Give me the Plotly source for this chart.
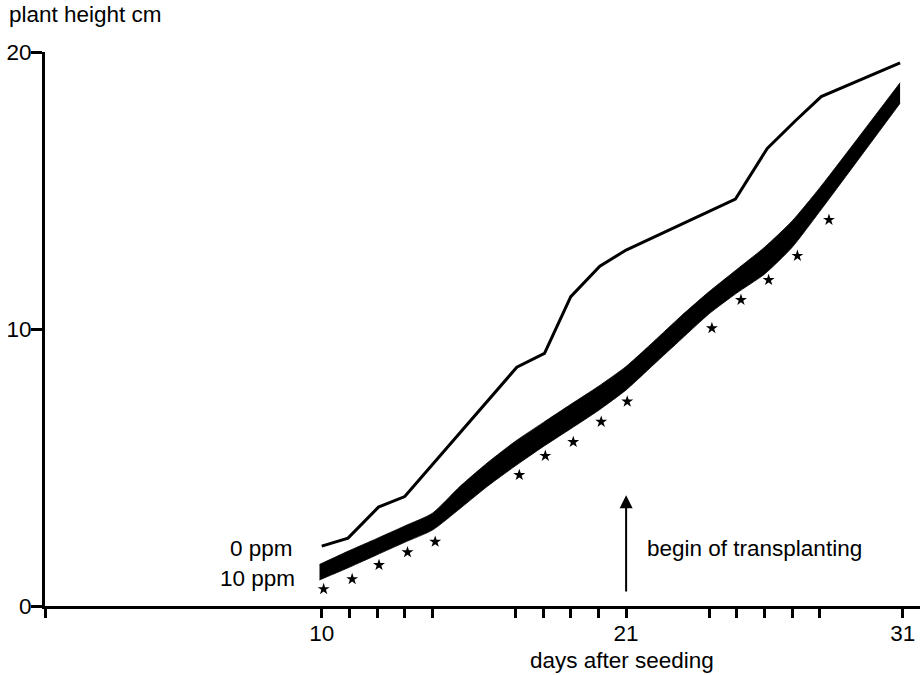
import plotly.graph_objects as go

# ---- data ----
ppm0_days = [10.0, 10.95, 12.05, 13.0, 17.05, 18.05, 19.0, 20.05, 21.0, 24.95, 26.1, 27.1, 28.05, 30.9]
ppm0_height = [2.16, 2.45, 3.57, 3.95, 8.62, 9.12, 11.17, 12.27, 12.85, 14.69, 16.52, 17.5, 18.39, 19.61]

band_days = [9.92, 11, 12, 13, 14, 15, 16, 17, 18, 19, 20, 21, 22, 23, 24, 25, 26, 27, 28, 30.9]
band_upper = [1.50, 2.00, 2.44, 2.89, 3.35, 4.32, 5.18, 5.95, 6.62, 7.28, 7.93, 8.65, 9.55, 10.48,
              11.35, 12.15, 12.95, 13.90, 15.10, 18.89]
band_lower = [0.94, 1.40, 1.85, 2.30, 2.74, 3.52, 4.33, 5.06, 5.75, 6.40, 7.06, 7.80, 8.72, 9.64,
              10.55, 11.30, 11.98, 12.95, 14.25, 18.15]

star_days = [10.07, 11.1, 12.07, 13.1, 14.1, 17.14, 18.08, 19.09, 20.1, 21.04, 24.1, 25.15, 26.15, 27.19, 28.33]
star_height = [0.61, 0.97, 1.48, 1.94, 2.32, 4.73, 5.42, 5.92, 6.65, 7.38, 10.03, 11.05, 11.77, 12.64, 13.94]

x_tickvals = [0, 10, 11, 12, 13, 14, 17, 18, 19, 20, 21, 24, 25, 26, 27, 28, 31]
x_ticklabels = {10: "10", 21: "21", 31: "31"}
y_tickvals = [0, 10, 20]

transplant_day = 21

FONT = "Liberation Sans, Arial, Helvetica, sans-serif"
FS = 22.5

fig = go.Figure()

fig.add_trace(go.Scatter(x=band_days, y=band_lower, mode="lines",
                         line=dict(color="black", width=0.8, shape="spline", smoothing=0.6),
                         hoverinfo="skip"))
fig.add_trace(go.Scatter(x=band_days, y=band_upper, mode="lines", fill="tonexty",
                         fillcolor="black",
                         line=dict(color="black", width=0.8, shape="spline", smoothing=0.6),
                         hoverinfo="skip"))
fig.add_trace(go.Scatter(x=ppm0_days, y=ppm0_height, mode="lines",
                         line=dict(color="black", width=3)))
fig.add_trace(go.Scatter(x=star_days, y=star_height, mode="markers",
                         marker=dict(symbol="star", size=9, color="black")))

fig.update_layout(
    width=924, height=675,
    margin=dict(l=45, r=4, t=52, b=69),
    plot_bgcolor="white", paper_bgcolor="white",
    showlegend=False,
    font=dict(family=FONT, size=FS, color="black"),
    xaxis=dict(range=[0, 31.62], showline=True, linewidth=3, linecolor="black",
               ticks="outside", ticklen=9, tickwidth=2.5, tickcolor="black",
               tickvals=x_tickvals,
               ticktext=[x_ticklabels.get(v, "") for v in x_tickvals],
               ticklabelstandoff=-4,
               showgrid=False, zeroline=False, tickfont=dict(size=FS)),
    yaxis=dict(range=[0, 20], showline=True, linewidth=3, linecolor="black",
               ticks="outside", ticklen=11, tickwidth=2.5, tickcolor="black",
               tickvals=y_tickvals, ticktext=[str(v) for v in y_tickvals],
               ticklabelstandoff=-5,
               showgrid=False, zeroline=False, tickfont=dict(size=FS)),
)

annotations = [
    dict(text="plant height cm", xref="paper", yref="paper", x=-0.0434, y=1.067,
         xanchor="left", yanchor="middle", showarrow=False),
    dict(text="days after seeding", xref="paper", yref="paper", x=0.659, y=-0.0975,
         xanchor="center", yanchor="middle", showarrow=False),
    dict(text="0 ppm", xref="x", yref="y", x=9.03, y=2.06,
         xanchor="right", yanchor="middle", showarrow=False),
    dict(text="10 ppm", xref="x", yref="y", x=9.1, y=1.01,
         xanchor="right", yanchor="middle", showarrow=False),
    dict(text="begin of transplanting", xref="x", yref="y", x=21.68, y=2.09,
         xanchor="left", yanchor="middle", showarrow=False),
    dict(text="", xref="x", yref="y", x=transplant_day, y=4.0,
         axref="x", ayref="y", ax=transplant_day, ay=0.47,
         showarrow=True, arrowhead=2, arrowsize=1.3, arrowwidth=2, arrowcolor="black"),
]
fig.update_layout(annotations=annotations)

fig.write_html("out.html")
